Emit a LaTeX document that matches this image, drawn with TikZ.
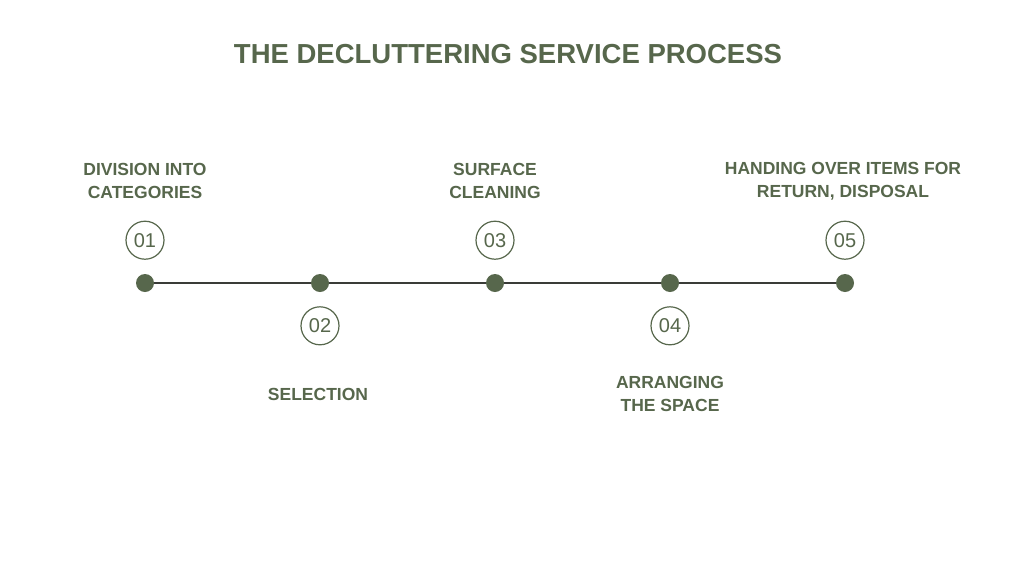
\documentclass[tikz,border=0pt]{standalone}
\usepackage{fontspec}
\setmainfont{Liberation Sans}
\usepackage{xcolor}
\usetikzlibrary{positioning}
\definecolor{olive}{RGB}{87,103,76}
\definecolor{linegray}{RGB}{58,60,56}

\begin{document}
\begin{tikzpicture}[x=1pt,y=-1pt,
  dot/.style={circle,fill=olive,minimum size=18pt,inner sep=0pt},
  num/.style={circle,draw=olive,line width=1.2pt,minimum size=38pt,inner sep=0pt,text=olive,font=\fontsize{20}{20}\selectfont},
  lbl/.style={align=center,text=olive,font=\fontsize{17.5}{23}\selectfont\bfseries}
]
  \useasboundingbox[fill=white] (0,0) rectangle (1024,576);
  \node[text=olive,font=\fontsize{27.5}{27.5}\selectfont\bfseries] (title) at (508,54) {THE DECLUTTERING SERVICE PROCESS};

  % timeline dots
  \node[dot] (d1) at (145,283) {};
  \node[dot] (d2) at (320,283) {};
  \node[dot] (d3) at (495,283) {};
  \node[dot] (d4) at (670,283) {};
  \node[dot] (d5) at (845,283) {};
  \draw[linegray,line width=1.3pt] (d1)--(d2) (d2)--(d3) (d3)--(d4) (d4)--(d5);

  % step numbers, alternating above and below
  \node[num, above=14pt of d1] (n1) {01};
  \node[num, below=14pt of d2] (n2) {02};
  \node[num, above=14pt of d3] (n3) {03};
  \node[num, below=14pt of d4] (n4) {04};
  \node[num, above=14pt of d5] (n5) {05};

  \node[lbl] (l1) at (145,181) {DIVISION INTO\\CATEGORIES};
  \node[lbl] (l2) at (318,394) {SELECTION};
  \node[lbl] (l3) at (495,181) {SURFACE\\CLEANING};
  \node[lbl] (l4) at (670,394) {ARRANGING\\THE SPACE};
  \node[lbl] (l5) at (843,181) {HANDING OVER ITEMS FOR\\RETURN, DISPOSAL};
\end{tikzpicture}
\end{document}
